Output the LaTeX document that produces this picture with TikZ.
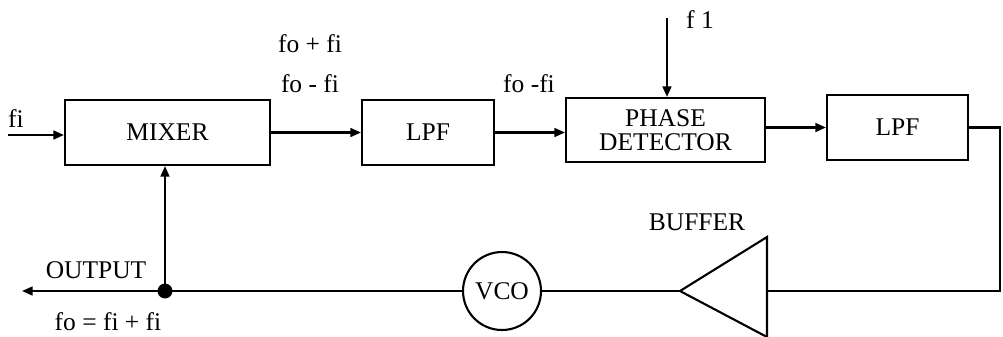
\documentclass[tikz,border=0pt]{standalone}
\usepackage{fontspec}
\setmainfont{Liberation Serif}
\usetikzlibrary{arrows.meta}
\begin{document}
\begin{tikzpicture}[x=0.02cm,y=-0.02cm,
  every node/.style={font=\fontsize{14.5}{16}\selectfont},
  blk/.style={draw,line width=1.2pt,rectangle,inner sep=0pt,align=center},
  wire/.style={line width=1.2pt},
  arr/.style={wire,-{Triangle[length=6pt,width=5pt]}},
  lbl/.style={inner sep=0pt}]
\useasboundingbox (0,0) rectangle (1003,336);
% blocks
\node[blk,minimum width=4.1cm,minimum height=1.3cm] (mixer) at (167.5,132.5) {MIXER};
\node[blk,minimum width=2.64cm,minimum height=1.3cm] (lpfa) at (428,132.5) {LPF};
\node[blk,minimum width=3.98cm,minimum height=1.28cm] (pd) at (665.5,130) {PHASE\\[-2pt]DETECTOR};
\node[blk,minimum width=2.82cm,minimum height=1.3cm] (lpfb) at (897.5,127.5) {LPF};
\node[draw,circle,line width=1.2pt,minimum size=1.56cm,inner sep=0pt] (vco) at (502,291) {VCO};
% buffer triangle
\coordinate (buftip) at (680,291);
\coordinate (bufin) at (767,291);
\draw[wire,line join=miter] (buftip) -- (767,237) -- (767,337) -- cycle;
% junction
\node[circle,fill,inner sep=0pt,minimum size=8.5pt] (jn) at (165,291) {};
% free ends
\coordinate (fiin) at (8,135);
\coordinate (f1top) at (667,18);
\coordinate (corner) at (1000,127.5);
\coordinate (corner2) at (1000,291);
\coordinate (outend) at (22,291);
% connectors
\draw[arr] (fiin) -- (fiin -| mixer.west);
\draw[arr] (mixer.east) -- (lpfa.west);
\draw[arr] (lpfa.east) -- (lpfa.east -| pd.west);
\draw[arr] (lpfb.west -| pd.east) -- (lpfb.west);
\draw[arr] (f1top) -- (f1top |- pd.north);
\draw[wire] (lpfb.east) -- (corner) -- (corner2) -- (bufin);
\draw[wire] (buftip) -- (vco.east);
\draw[wire] (vco.west) -- (jn.center);
\draw[arr] (jn.center) -- (jn.center |- mixer.south);
\draw[arr] (jn.center) -- (outend);
% labels
\node[lbl] (lfi) at (16,119) {fi};
\node[lbl] (lsum) at (310,44) {fo + fi};
\node[lbl] (ldiff) at (310,84) {fo - fi};
\node[lbl] (ldiff2) at (529,84) {fo -fi};
\node[lbl] (lf1) at (700,20) {f 1};
\node[lbl] (lbuf) at (697,222) {BUFFER};
\node[lbl] (lout) at (96,270) {OUTPUT};
\node[lbl] (lfo) at (108,322) {fo = fi + fi};
\end{tikzpicture}
\end{document}
